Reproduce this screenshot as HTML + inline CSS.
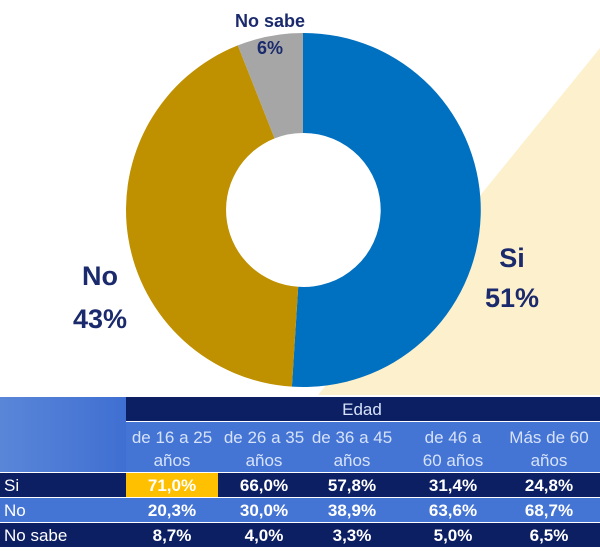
<!DOCTYPE html>
<html><head><meta charset="utf-8"><style>
html,body{margin:0;padding:0;background:#fff;}
svg{display:block;font-family:"Liberation Sans",sans-serif;}
</style></head><body>
<svg width="600" height="552" viewBox="0 0 600 552" xmlns="http://www.w3.org/2000/svg">
<defs>
<linearGradient id="lg" x1="0" y1="0" x2="1" y2="0"><stop offset="0" stop-color="#5a86d8"/><stop offset="1" stop-color="#3f6fd2"/></linearGradient>
</defs>
<polygon points="600,48 318,395 600,395" fill="#fdf0cc"/>
<path d="M303,33 A177,177 0 1 1 291.9,386.6 L298.2,286.8 A77,77 0 1 0 303,133 Z" fill="#0070c0"/>
<path d="M291.9,386.6 A177,177 0 0 1 237.8,45.4 L274.6,138.4 A77,77 0 0 0 298.2,286.8 Z" fill="#bf9000"/>
<path d="M237.8,45.4 A177,177 0 0 1 303,33 L303,133 A77,77 0 0 0 274.6,138.4 Z" fill="#a6a6a6"/>
<g font-weight="bold" fill="#1a2a6c" text-anchor="middle">
<text x="270" y="27" font-size="18">No sabe</text>
<text x="270" y="54" font-size="18">6%</text>
<text x="512" y="267" font-size="27">Si</text>
<text x="512" y="307" font-size="27">51%</text>
<text x="100" y="285" font-size="27">No</text>
<text x="100" y="328" font-size="27">43%</text>
</g>
<!-- table -->
<rect x="0" y="395" width="600" height="157" fill="#fff"/>
<rect x="0" y="397" width="126" height="75" fill="url(#lg)"/>
<rect x="126" y="397" width="474" height="24" fill="#0c1f63"/>
<rect x="126" y="422" width="474" height="50" fill="#4474d4"/>
<rect x="0" y="473" width="600" height="24" fill="#0c1f63"/>
<rect x="126" y="473" width="92" height="24" fill="#ffc000"/>
<rect x="0" y="498" width="600" height="24" fill="#4474d4"/>
<rect x="0" y="523" width="600" height="24" fill="#0c1f63"/>
<g font-size="17" fill="#d6e2fa" text-anchor="middle">
<text x="362" y="415">Edad</text>
<text x="172" y="443">de 16 a 25</text><text x="172" y="466">años</text>
<text x="264" y="443">de 26 a 35</text><text x="264" y="466">años</text>
<text x="352" y="443">de 36 a 45</text><text x="352" y="466">años</text>
<text x="453" y="443">de 46 a</text><text x="453" y="466">60 años</text>
<text x="549" y="443">Más de 60</text><text x="549" y="466">años</text>
</g>
<g font-size="17" fill="#ffffff">
<text x="4" y="491">Si</text><text x="4" y="516">No</text><text x="4" y="541">No sabe</text>
</g>
<g font-size="17" font-weight="bold" fill="#ffffff" text-anchor="middle">
<text x="172" y="491">71,0%</text><text x="264" y="491">66,0%</text><text x="352" y="491">57,8%</text><text x="453" y="491">31,4%</text><text x="549" y="491">24,8%</text>
<text x="172" y="516">20,3%</text><text x="264" y="516">30,0%</text><text x="352" y="516">38,9%</text><text x="453" y="516">63,6%</text><text x="549" y="516">68,7%</text>
<text x="172" y="541">8,7%</text><text x="264" y="541">4,0%</text><text x="352" y="541">3,3%</text><text x="453" y="541">5,0%</text><text x="549" y="541">6,5%</text>
</g>
</svg>
</body></html>
